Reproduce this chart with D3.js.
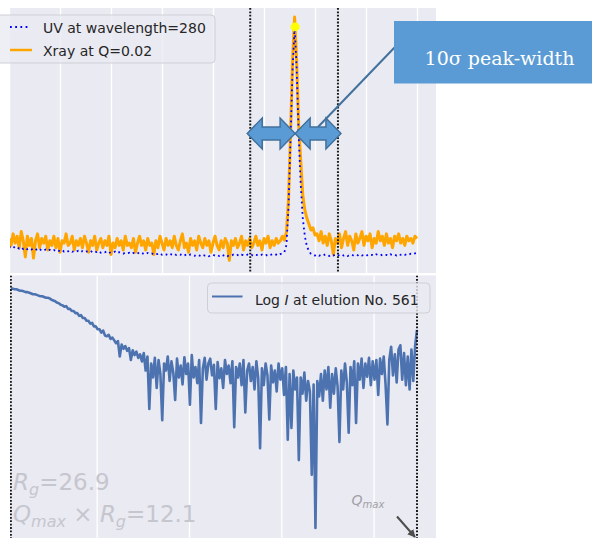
<!DOCTYPE html>
<html><head><meta charset="utf-8">
<script src="https://cdn.jsdelivr.net/npm/d3@7"></script>
<style>body{margin:0;background:#fff} svg{display:block}</style>
</head><body>
<svg id="c" width="592" height="538"></svg>
<script>
// ---------- DATA ----------
const elutionStart = 0, elutionStep = 4;
const xrayValues = [
0.05,0.02,0.07,0.03,0.06,0.01,0.08,0.04,-0.03,0.06,
0.02,0.05,-0.035,0.04,0.07,0.01,0.05,0.03,0.06,0.00,
0.04,0.02,0.06,0.01,0.05,-0.01,0.04,0.03,0.07,0.02,
0.03,0.06,0.00,0.04,0.02,0.05,0.01,0.06,0.03,-0.01,
0.04,0.02,0.06,0.00,0.03,0.05,0.01,0.04,0.02,0.06,
-0.02,0.03,0.01,0.05,0.02,0.04,0.00,0.06,0.02,0.03,
0.01,0.05,-0.01,0.03,0.06,0.02,0.04,0.00,0.05,0.02,
0.03,-0.02,0.04,0.01,0.06,0.03,0.00,0.05,0.02,0.04,
0.01,0.06,0.02,0.00,0.04,0.07,0.01,0.03,-0.01,0.05,
0.02,0.04,0.00,0.06,0.03,0.01,0.05,0.02,0.04,-0.01,
0.03,0.06,0.02,0.00,0.04,0.01,0.05,0.03,-0.045,0.04,
0.02,0.05,0.01,0.03,0.06,0.00,0.04,0.02,0.05,0.01,
0.03,0.06,0.02,0.04,0.00,0.05,0.03,0.06,0.01,0.04,
0.02,0.05,0.03,0.04,0.06,
0.043,0.078,0.217,0.50,0.826,1.013,0.826,0.543,0.391,0.239,0.174,0.139,0.113,0.087,0.096,0.065,
0.07,0.04,0.08,0.03,0.06,0.02,0.07,0.04,-0.02,0.05,
0.03,0.07,0.01,0.05,0.08,0.02,0.06,0.04,0.00,0.07,
0.03,0.05,0.08,0.02,0.06,0.04,0.07,0.01,0.05,0.03,
0.08,0.04,0.06,0.02,0.07,0.03,0.05,0.01,0.06,0.04,
0.07,0.03,0.05,0.02,0.06,0.04,0.05,0.03,0.06,0.05
];
const uvValues = [
0.014,0.010,0.016,0.008,0.012,0.006,0.011,0.004,0.009,0.003,
0.007,0.002,0.006,0.000,0.005,-0.002,0.004,-0.001,0.002,-0.004,
0.001,-0.003,0.000,-0.006,-0.002,-0.005,0.000,-0.007,-0.003,-0.006,
-0.002,-0.008,-0.004,-0.007,-0.003,-0.009,-0.005,-0.010,-0.006,-0.008,
-0.004,-0.011,-0.007,-0.009,-0.005,-0.012,-0.008,-0.010,-0.006,-0.013,
-0.009,-0.011,-0.007,-0.014,-0.010,-0.012,-0.016,-0.011,-0.014,-0.012,
-0.017,-0.013,-0.015,-0.011,-0.018,-0.014,-0.016,-0.019,-0.013,-0.017,
-0.015,-0.020,-0.016,-0.018,-0.014,-0.021,-0.017,-0.019,-0.023,-0.018,
-0.020,-0.016,-0.022,-0.019,-0.021,-0.017,-0.023,-0.020,-0.024,-0.019,
-0.022,-0.025,-0.020,-0.023,-0.026,-0.021,-0.024,-0.022,-0.027,-0.023,
-0.021,-0.025,-0.022,-0.026,-0.020,-0.024,-0.021,-0.027,-0.023,-0.025,
-0.020,-0.024,-0.022,-0.026,-0.021,-0.023,-0.025,-0.020,-0.024,-0.022,
-0.026,-0.021,-0.023,-0.025,-0.020,-0.024,-0.022,-0.026,-0.021,-0.019,
-0.023,-0.020,-0.024,-0.018,-0.015,
-0.009,0.022,0.183,0.478,0.783,0.970,0.791,0.500,0.283,0.139,0.061,0.017,-0.004,-0.017,-0.022,-0.024,
-0.020,-0.025,-0.021,-0.024,-0.019,-0.023,-0.026,-0.021,-0.024,-0.020,
-0.025,-0.022,-0.019,-0.024,-0.021,-0.026,-0.022,-0.020,-0.025,-0.021,
-0.023,-0.019,-0.024,-0.022,-0.026,-0.020,-0.023,-0.021,-0.025,-0.019,
-0.022,-0.024,-0.020,-0.023,-0.021,-0.025,-0.019,-0.022,-0.020,-0.024,
-0.018,-0.021,-0.019,-0.022,-0.017,-0.020,-0.016,-0.019,-0.015,-0.013
];
const peakElution = 561, peakUV = 0.97;
const boundsElution = [473, 645];
const topGridTicks = [0, 100, 200, 300, 400, 500, 600, 700, 800];
const topLegend = ["UV at wavelength=280", "Xray at Q=0.02"];

const qStart = 0.007, qStep = 0.002, qMax = 0.447;
const logIValues = [
0.02,0.02,0.01,0.01,0.00,-0.01,-0.01,-0.02,-0.03,-0.03,
-0.04,-0.05,-0.06,-0.06,-0.07,-0.08,-0.09,-0.09,-0.10,-0.11,
-0.11,-0.12,-0.14,-0.15,-0.16,-0.18,-0.19,-0.21,-0.22,-0.24,
-0.23,-0.27,-0.27,-0.30,-0.30,-0.33,-0.33,-0.37,-0.36,-0.40,
-0.40,-0.44,-0.44,-0.48,-0.47,-0.52,-0.52,-0.56,-0.56,-0.61,
-0.58,-0.65,
-0.66,-0.64,-0.70,-0.68,-0.72,-0.76,-0.73,-0.95,-0.78,-0.84,-0.80,-0.87,-0.83,-1.00,-0.86,-0.93,-0.88,-0.97,-0.92,
-1.02,-0.90,-1.15,-0.95,-1.70,-1.05,-1.25,-0.97,-1.40,-1.00,
-1.20,-1.86,-1.05,-1.15,-0.95,-1.30,-1.02,-1.18,-1.57,-0.98,
-1.25,-1.08,-1.35,-0.96,-1.20,-1.05,-1.64,-0.93,-1.25,-1.10,
-1.33,-1.00,-1.90,-1.12,-0.97,-1.28,-1.05,-0.98,-1.22,-1.07,
-1.70,-1.03,-1.26,-1.12,-1.40,-1.00,-1.20,-1.08,-1.33,-1.02,
-1.96,-1.10,-1.25,-1.05,-1.36,-1.00,-1.75,-1.15,-1.05,-1.30,
-1.10,-1.42,-1.02,-1.26,-2.26,-1.12,-1.36,-1.05,-1.22,-1.85,
-1.08,-1.32,-1.15,-1.45,-1.05,-1.28,-1.12,-1.50,-1.10,-2.14,
-1.20,-1.97,-1.15,-1.42,-1.25,
-2.43,-1.25,-1.48,-1.18,-1.58,-1.30,-1.45,-2.64,-1.35,-3.40,-1.30,-1.52,
-1.20,-1.58,-1.15,-1.42,-1.10,-1.68,-1.20,-1.48,-1.12,-1.38,
-2.17,-1.15,-1.42,-1.05,-1.32,-2.04,-1.10,-1.36,-1.02,-1.90,
-1.05,-1.28,-0.98,-1.40,-1.05,-1.24,-0.97,-1.36,-1.02,-1.28,
-1.00,-1.50,-0.98,-1.20,-0.95,-1.36,-1.92,-1.00,-0.81,-1.22,
-0.92,-1.32,-0.85,-0.79,-1.28,-0.90,-1.36,-0.95,-1.42,-0.85,
-1.30,-0.80,-0.57
];
const botGridTicks = [0.1, 0.2, 0.3, 0.4];
const elutionNo = 561;
const rgValue = 26.9, qmaxRg = 12.1;
const annotationText = "10σ peak-width";

// ---------- LAYOUT ----------
const svg = d3.select("#c");
const topP = {x0: 10, x1: 436, y0: 8, y1: 273};
const botP = {x0: 10, x1: 436, y0: 275.5, y1: 538};
const xTop = d3.scaleLinear().domain([0, 840]).range([9, 437.4]);
const yTop = d3.scaleLinear().domain([-0.0957, 1.0522]).range([272, 8]);
const xBot = d3.scaleLinear().domain([0, 0.45]).range([4.4, 419.75]);
const yBot = d3.scaleLinear().domain([-3.543, 0.2]).range([538, 276]);
const FONT = "DejaVu Sans, Verdana, sans-serif";

const defs = svg.append("defs");
[["clipTop", topP], ["clipBot", botP]].forEach(([id, p]) => {
  defs.append("clipPath").attr("id", id).append("rect")
    .attr("x", p.x0).attr("y", p.y0).attr("width", p.x1 - p.x0).attr("height", p.y1 - p.y0);
});
defs.append("marker").attr("id", "ah").attr("viewBox", "0 0 10 10")
  .attr("refX", 9).attr("refY", 5).attr("markerWidth", 4).attr("markerHeight", 4)
  .attr("orient", "auto").append("path").attr("d", "M0,0 L10,5 L0,10 Z").attr("fill", "#4d4d4d");

// panels
[topP, botP].forEach(p => svg.append("rect").attr("x", p.x0).attr("y", p.y0)
  .attr("width", p.x1 - p.x0).attr("height", p.y1 - p.y0).attr("fill", "#eaeaf2"));

function grid(scale, ticks, p, clip) {
  const outer = svg.append("g").attr("clip-path", `url(#${clip})`);
  const g = outer.append("g").attr("transform", `translate(0,${p.y1})`)
    .call(d3.axisBottom(scale).tickValues(ticks).tickSize(-(p.y1 - p.y0)).tickFormat(""));
  g.select(".domain").remove();
  g.selectAll("line").attr("stroke", "#ffffff").attr("stroke-width", 1.3);
}
grid(xTop, topGridTicks, topP, "clipTop");
grid(xBot, botGridTicks, botP, "clipBot");

// ---------- TOP PANEL ----------
const gTop = svg.append("g").attr("clip-path", "url(#clipTop)");
const lineTop = d3.line().x((d, i) => xTop(elutionStart + i * elutionStep)).y(d => yTop(d));
gTop.append("path").datum(xrayValues).attr("d", lineTop).attr("fill", "none")
  .attr("stroke", "#ffa500").attr("stroke-width", 3).attr("stroke-linejoin", "round");
gTop.append("path").datum(uvValues).attr("d", lineTop).attr("fill", "none")
  .attr("stroke", "#0000ff").attr("stroke-width", 1.8).attr("stroke-dasharray", "1.8,3.4");
gTop.append("circle").attr("cx", xTop(peakElution)).attr("cy", yTop(peakUV)).attr("r", 4.5).attr("fill", "#ffff00");
boundsElution.forEach(e => gTop.append("line")
  .attr("x1", xTop(e)).attr("x2", xTop(e)).attr("y1", topP.y0).attr("y2", topP.y1)
  .attr("stroke", "#1a1a1a").attr("stroke-width", 2).attr("stroke-dasharray", "1.8,1.6"));

// top legend
const lg = svg.append("g");
lg.append("rect").attr("x", -6).attr("y", 15).attr("width", 221).attr("height", 48).attr("rx", 4)
  .attr("fill", "#eaeaf2").attr("fill-opacity", 0.8).attr("stroke", "#cfcfd6").attr("stroke-width", 1);
lg.append("line").attr("x1", 10).attr("x2", 29).attr("y1", 27).attr("y2", 27)
  .attr("stroke", "#0000ff").attr("stroke-width", 1.8).attr("stroke-dasharray", "1.8,3.4");
lg.append("line").attr("x1", 10).attr("x2", 32).attr("y1", 50).attr("y2", 50)
  .attr("stroke", "#ffa500").attr("stroke-width", 2.5);
topLegend.forEach((t, i) => lg.append("text").attr("x", 43).attr("y", 32.5 + i * 23)
  .attr("font-family", FONT).attr("font-size", 14).attr("fill", "#262626").text(t));

// ---------- BOTTOM PANEL ----------
const gBot = svg.append("g").attr("clip-path", "url(#clipBot)");
const lineBot = d3.line().x((d, i) => xBot(qStart + i * qStep)).y(d => yBot(d));
gBot.append("path").datum(logIValues).attr("d", lineBot).attr("fill", "none")
  .attr("stroke", "#4c72b0").attr("stroke-width", 2.6).attr("stroke-linejoin", "round");
[qStart, qMax].forEach(q => gBot.append("line")
  .attr("x1", xBot(q)).attr("x2", xBot(q)).attr("y1", botP.y0).attr("y2", botP.y1)
  .attr("stroke", "#1a1a1a").attr("stroke-width", 2).attr("stroke-dasharray", "1.8,1.6"));

// bottom legend
const lb = svg.append("g");
lb.append("rect").attr("x", 207.5).attr("y", 283).attr("width", 222.5).attr("height", 30).attr("rx", 4)
  .attr("fill", "#eaeaf2").attr("fill-opacity", 0.8).attr("stroke", "#cfcfd6").attr("stroke-width", 1);
lb.append("line").attr("x1", 212).attr("x2", 242.5).attr("y1", 296.5).attr("y2", 296.5)
  .attr("stroke", "#4c72b0").attr("stroke-width", 2);
const lbt = lb.append("text").attr("x", 255).attr("y", 304.5).attr("font-family", FONT)
  .attr("font-size", 14).attr("fill", "#262626");
lbt.append("tspan").text("Log ");
lbt.append("tspan").attr("font-style", "italic").text("I");
lbt.append("tspan").text(" at elution No. " + elutionNo);

// Rg texts
const rgCol = "#c6c6ce";
const t1 = svg.append("text").attr("x", 13).attr("y", 490).attr("font-family", FONT).attr("font-size", 23).attr("fill", rgCol);
t1.append("tspan").attr("font-style", "italic").text("R");
t1.append("tspan").attr("font-style", "italic").attr("font-size", 16).attr("dy", 5).text("g");
t1.append("tspan").attr("dy", -5).text("=" + rgValue);
const t2 = svg.append("text").attr("x", 13).attr("y", 522).attr("font-family", FONT).attr("font-size", 23).attr("fill", rgCol);
t2.append("tspan").attr("font-style", "italic").text("Q");
t2.append("tspan").attr("font-style", "italic").attr("font-size", 16).attr("dy", 5).text("max");
t2.append("tspan").attr("dy", -5).text(" × ");
t2.append("tspan").attr("font-style", "italic").text("R");
t2.append("tspan").attr("font-style", "italic").attr("font-size", 16).attr("dy", 5).text("g");
t2.append("tspan").attr("dy", -5).text("=" + qmaxRg);

// Qmax label + arrow
const t3 = svg.append("text").attr("x", 351.5).attr("y", 505).attr("font-family", FONT).attr("font-size", 14).attr("fill", "#a0a0a6");
t3.append("tspan").attr("font-style", "italic").text("Q");
t3.append("tspan").attr("font-style", "italic").attr("font-size", 10).attr("dy", 3).text("max");
svg.append("line").attr("x1", 397).attr("y1", 516.5).attr("x2", xBot(qMax) - 2).attr("y2", 537)
  .attr("stroke", "#4d4d4d").attr("stroke-width", 2).attr("marker-end", "url(#ah)");

// ---------- ANNOTATION ----------
const peakMax = d3.max(xrayValues);
const yc = yTop(peakMax / 2);
svg.append("line").attr("x1", 395).attr("y1", 47).attr("x2", 318).attr("y2", 127)
  .attr("stroke", "#41719c").attr("stroke-width", 2);
function dblArrow(x0, x1) {
  const h = 15, H = 15.5, S = 6.5;
  return `M${x0},${yc} L${x0 + h},${yc - H} L${x0 + h},${yc - S} L${x1 - h},${yc - S} L${x1 - h},${yc - H} L${x1},${yc} ` +
         `L${x1 - h},${yc + H} L${x1 - h},${yc + S} L${x0 + h},${yc + S} L${x0 + h},${yc + H} Z`;
}
const xPeak = xTop(peakElution);
[[xTop(boundsElution[0]) - 3, xPeak], [xPeak, xTop(boundsElution[1]) + 3]].forEach(([a, b]) =>
  svg.append("path").attr("d", dblArrow(a, b)).attr("fill", "#5b9bd5")
    .attr("stroke", "#41719c").attr("stroke-width", 1.5).attr("stroke-linejoin", "miter"));
svg.append("rect").attr("x", 394).attr("y", 21).attr("width", 200).attr("height", 62.5).attr("fill", "#5b9bd5");
svg.append("text").attr("x", 499.5).attr("y", 65).attr("text-anchor", "middle")
  .attr("font-family", "DejaVu Serif, Liberation Serif, serif").attr("font-size", 19)
  .attr("fill", "#ffffff").text(annotationText);
</script>
</body></html>
